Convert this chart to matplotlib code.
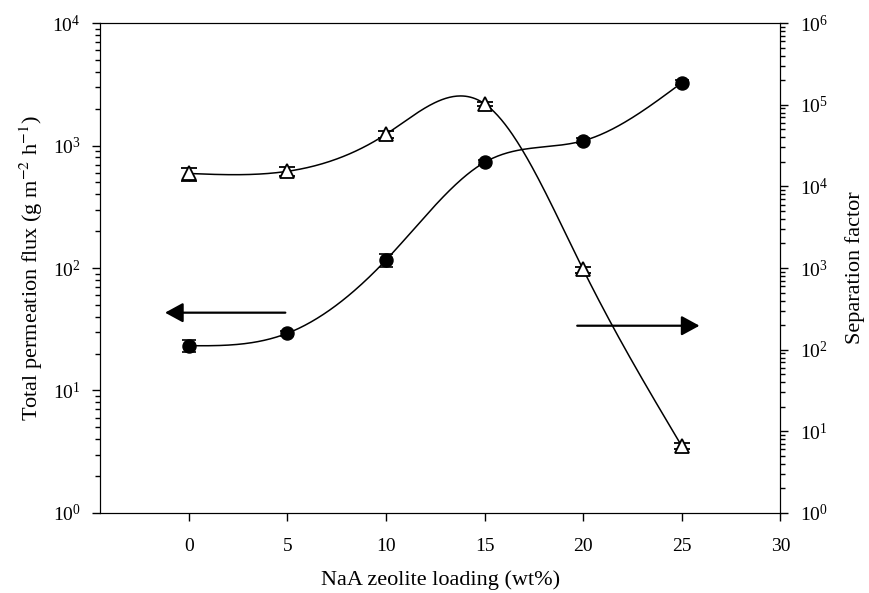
import numpy as np
import matplotlib
matplotlib.use("Agg")
import matplotlib.pyplot as plt

plt.rcParams['font.family'] = ['Liberation Serif', 'DejaVu Serif']
plt.rcParams['mathtext.fontset'] = 'stix'
plt.rcParams['font.size'] = 14

# data
carga = [0, 5, 10, 15, 20, 25]
flujo = [23.2, 29.3, 116, 729, 1094, 3258]
flujo_err = [2.5, 1.5, 14, 40, 50, 150]
separacion = [14400, 15300, 43500, 103000, 960, 6.6]
separacion_err = [2600, 1800, 4000, 6000, 80, 0.6]


def spline_natural(x, y, xs):
    # spline cubico natural, hecho a mano (sin scipy)
    x = np.asarray(x, float)
    y = np.asarray(y, float)
    n = len(x)
    h = np.diff(x)
    A = np.zeros((n, n))
    b = np.zeros(n)
    A[0, 0] = 1
    A[-1, -1] = 1
    for i in range(1, n - 1):
        A[i, i - 1] = h[i - 1]
        A[i, i] = 2 * (h[i - 1] + h[i])
        A[i, i + 1] = h[i]
        b[i] = 3 * ((y[i + 1] - y[i]) / h[i] - (y[i] - y[i - 1]) / h[i - 1])
    c = np.linalg.solve(A, b)
    out = np.zeros_like(xs)
    for k, xv in enumerate(xs):
        i = min(np.searchsorted(x, xv, side='right') - 1, n - 2)
        i = max(i, 0)
        d = xv - x[i]
        bb = (y[i + 1] - y[i]) / h[i] - h[i] * (2 * c[i] + c[i + 1]) / 3
        dd = (c[i + 1] - c[i]) / (3 * h[i])
        out[k] = y[i] + bb * d + c[i] * d ** 2 + dd * d ** 3
    return out


fig = plt.figure(figsize=(8.69, 5.93), dpi=100)
ax = fig.add_axes([0.115, 0.135, 0.783, 0.826])
ax2 = ax.twinx()

xs = np.linspace(0, 25, 400)

# flujo (eje izquierdo)
curva_f = 10 ** spline_natural(carga, np.log10(flujo), xs)
ax.plot(xs, curva_f, color='black', lw=1.1)
ax.errorbar(carga, flujo, yerr=flujo_err, fmt='o', color='black', ms=9.4,
            capsize=5.3, elinewidth=1, capthick=1.2, zorder=3)

# factor de separacion (eje derecho)
curva_s = 10 ** spline_natural(carga, np.log10(separacion), xs)
ax2.plot(xs, curva_s, color='black', lw=1.1)
ax2.errorbar(carga, separacion, yerr=separacion_err, fmt='^', color='black',
             mfc='white', mec='black', ms=10, mew=1.3,
             capsize=5.5, elinewidth=1, capthick=1.2, zorder=3)

ax.set_yscale('log')
ax2.set_yscale('log')
ax.set_ylim(1, 1e4)
ax2.set_ylim(1, 1e6)
ax.set_xlim(-4.5, 30)
ax.set_xticks([0, 5, 10, 15, 20, 25, 30])

for a in (ax, ax2):
    a.tick_params(which='major', direction='out', length=6, width=1, labelsize=14, pad=8)
    a.tick_params(which='minor', direction='out', length=3.5, width=1)
ax.tick_params(axis='x', pad=12)

ax.set_xlabel('NaA zeolite loading (wt%)', fontsize=16, labelpad=11)
ax.set_ylabel('Total permeation flux (g m$^{-2}$ h$^{-1}$)', fontsize=16, labelpad=5)
ax2.set_ylabel('Separation factor', fontsize=16, labelpad=12)

# flechas
estilo = '-|>,head_length=0.55,head_width=0.3'
ax.annotate('', xy=(-1.2, 43.2), xytext=(4.9, 43.2),
            arrowprops=dict(arrowstyle=estilo, color='black', lw=1.6,
                            mutation_scale=20, shrinkA=0, shrinkB=0))
ax.annotate('', xy=(25.9, 33.8), xytext=(19.7, 33.8),
            arrowprops=dict(arrowstyle=estilo, color='black', lw=1.6,
                            mutation_scale=20, shrinkA=0, shrinkB=0))

fig.savefig('out.png', dpi=100)
